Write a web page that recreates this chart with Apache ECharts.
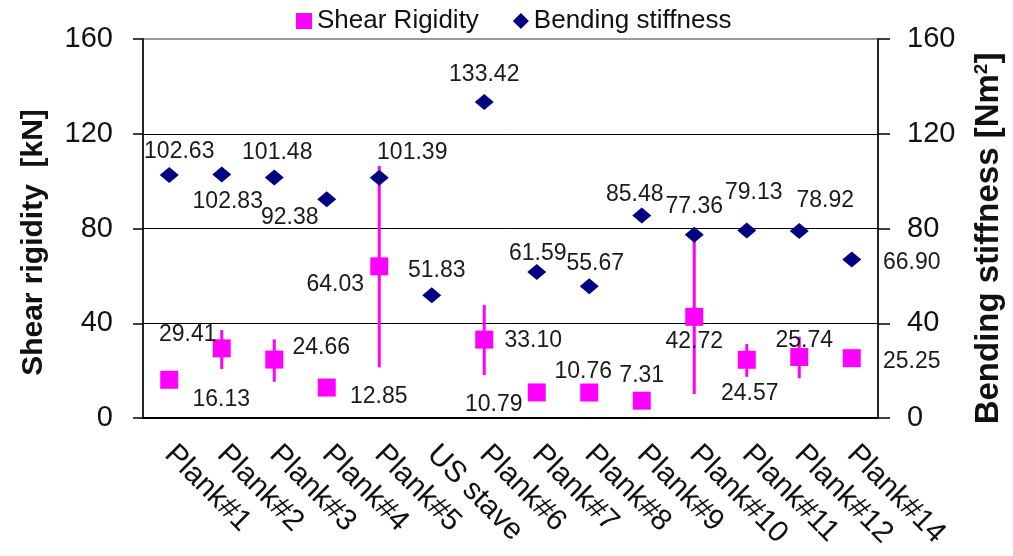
<!DOCTYPE html>
<html>
<head>
<meta charset="utf-8">
<script src="https://cdn.jsdelivr.net/npm/echarts@6/dist/echarts.min.js"></script>
<style>html,body{margin:0;padding:0;background:#fff}#c{width:1013px;height:556px}</style>
</head>
<body>
<div id="c"></div>
<script>
const categories = ['Plank#1','Plank#2','Plank#3','Plank#4','Plank#5','US stave','Plank#6','Plank#7','Plank#8','Plank#9','Plank#10','Plank#11','Plank#12','Plank#14'];
const shearRigidity = [16.13, 29.41, 24.66, 12.85, 64.03, null, 33.10, 10.79, 10.76, 7.31, 42.72, 24.57, 25.74, 25.25];
const bendingStiffness = [102.63, 102.83, 101.48, 92.38, 101.39, 51.83, 133.42, 61.59, 55.67, 85.48, 77.36, 79.13, 78.92, 66.90];
const shearErrLow = [null, 20.7, 15.3, null, 21.4, null, 18.1, null, null, null, 10.1, 17.4, 16.8, null];
const shearErrHigh = [null, 37.1, 33.2, null, 106.4, null, 47.7, null, null, null, 78.0, 31.2, 34.3, null];
const yTicks = [0, 40, 80, 120, 160];

// label offsets (style only)
const bendLabelOffsets = [[10,-23],[6,27],[3,-25],[-37,18],[33,-25],[5,-25],[0,-27],[1,-18],[6,-22],[-7,-21],[0,-28],[7,-38],[26,-30],[60,3]];
const shearLabelOffsets = [[52,20],[-34,-14],[47,-12],[52,9],[-44,18],[0,0],[49,1],[-43,12],[-6,-21],[0,-25],[0,25],[3,34],[5,-16],[60,3]];

const FONT = "'Liberation Sans', Arial, sans-serif";
const chart = echarts.init(document.getElementById('c'), null, {renderer: 'canvas'});

const labelStyle = {show: true, position: 'inside', fontSize: 23, color: '#1a1a1a', opacity: 1, fontFamily: FONT,
  formatter: p => (p.value == null ? '' : Number(Array.isArray(p.value) ? p.value[1] : p.value).toFixed(2))};

const errData = categories.map((c, i) => [i, shearErrLow[i], shearErrHigh[i]]).filter(d => d[1] != null);

const option = {
  animation: false,
  textStyle: {fontFamily: FONT},
  legend: {
    top: 3, left: 291, itemWidth: 16, itemHeight: 16, itemGap: 34,
    textStyle: {fontSize: 26, color: '#111', fontFamily: FONT},
    data: [{name: 'Shear Rigidity', icon: 'rect'}, {name: 'Bending stiffness', icon: 'diamond'}]
  },
  grid: {left: 143, right: 135, top: 39, bottom: 138, show: true, borderColor: '#999', borderWidth: 2},
  xAxis: {
    type: 'category', data: categories, boundaryGap: true,
    axisLine: {lineStyle: {color: '#000', width: 2}},
    axisTick: {length: 6, lineStyle: {color: '#000', width: 1.5}},
    axisLabel: {rotate: -45, interval: 0, fontSize: 30, color: '#111', margin: 32, fontFamily: FONT}
  },
  yAxis: [{
    type: 'value', min: yTicks[0], max: yTicks[yTicks.length-1], interval: 40,
    name: 'Shear rigidity  [kN]', nameLocation: 'middle', nameRotate: 90, nameGap: 94,
    nameTextStyle: {fontSize: 30, fontWeight: 'bold', color: '#111', fontFamily: FONT, padding: [0, 28, 0, 0]},
    axisLine: {show: true, lineStyle: {color: '#000', width: 1.5}},
    axisTick: {show: true, length: 10, lineStyle: {color: '#000', width: 1.5}},
    axisLabel: {fontSize: 29, color: '#111', margin: 30, fontFamily: FONT},
    splitLine: {show: true, showMinLine: false, showMaxLine: false, lineStyle: {color: '#000', width: 1}}
  }, {
    type: 'value', min: yTicks[0], max: yTicks[yTicks.length-1], interval: 40, position: 'right',
    name: '{b|Bending stiffness [Nm}{s|2}{b|]}', nameLocation: 'middle', nameRotate: 90, nameGap: 94,
    nameTextStyle: {fontSize: 33, fontWeight: 'bold', color: '#111', fontFamily: FONT, padding: [0, 20, 0, 0],
      rich: {b: {fontSize: 33, fontWeight: 'bold', color: '#111', fontFamily: FONT},
             s: {fontSize: 19, fontWeight: 'bold', color: '#111', fontFamily: FONT, verticalAlign: 'top'}}},
    axisLine: {show: true, lineStyle: {color: '#000', width: 1.5}},
    axisTick: {show: true, length: 12, lineStyle: {color: '#000', width: 1.5}},
    axisLabel: {fontSize: 29, color: '#111', margin: 29, fontFamily: FONT},
    splitLine: {show: false}
  }],
  series: [{
    name: 'errbars', type: 'custom', yAxisIndex: 0, z: 1, silent: true,
    data: errData,
    renderItem: (params, api) => {
      const p1 = api.coord([api.value(0), api.value(1)]);
      const p2 = api.coord([api.value(0), api.value(2)]);
      return {type: 'line', shape: {x1: p1[0], y1: p1[1], x2: p2[0], y2: p2[1]},
              style: {stroke: '#FF00FF', lineWidth: 3}};
    }
  }, {
    name: 'Shear Rigidity', type: 'scatter', yAxisIndex: 0, z: 3,
    symbol: 'rect', symbolSize: 18, itemStyle: {color: '#FF00FF', opacity: 1},
    label: labelStyle,
    data: shearRigidity.map((v, i) => ({value: v == null ? '-' : v, label: {offset: shearLabelOffsets[i]}}))
  }, {
    name: 'Bending stiffness', type: 'scatter', yAxisIndex: 1, z: 4,
    symbol: 'diamond', symbolSize: [19, 16], itemStyle: {color: '#000080', opacity: 1},
    label: labelStyle,
    data: bendingStiffness.map((v, i) => ({value: v, label: {offset: bendLabelOffsets[i]}}))
  }]
};
chart.setOption(option);
</script>
</body>
</html>
